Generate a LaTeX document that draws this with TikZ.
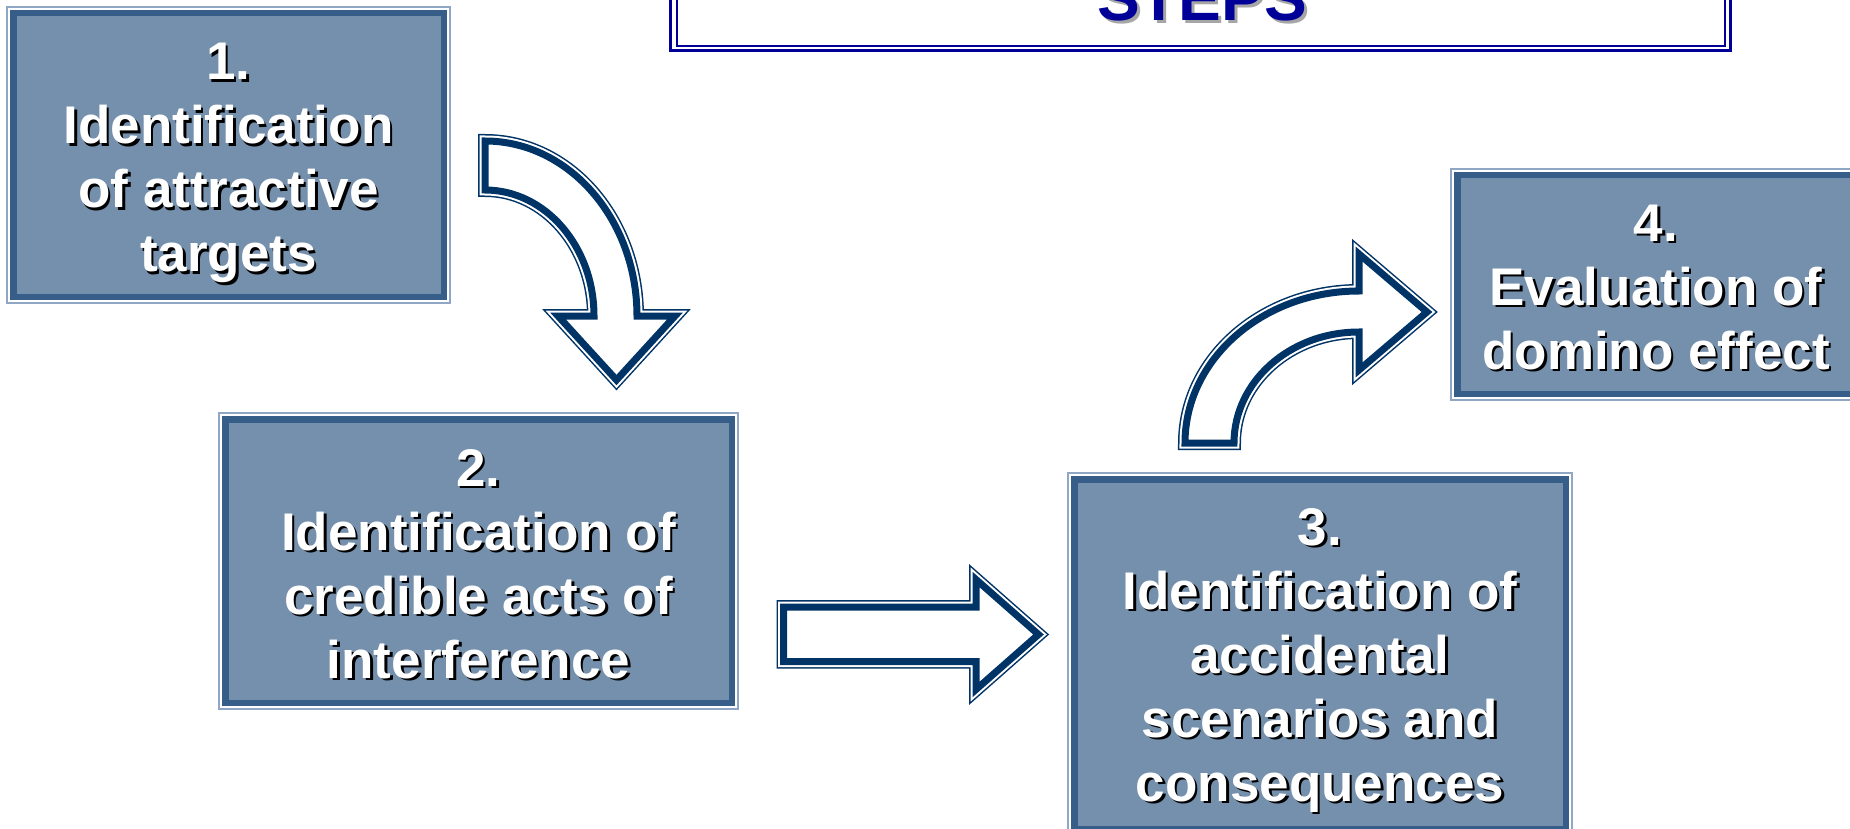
\documentclass[tikz,border=0pt]{standalone}
\usepackage{fontspec}
\setmainfont{Liberation Sans}[Ligatures=NoCommon]
\usetikzlibrary{calc}
\definecolor{boxfill}{HTML}{7590AD}
\definecolor{boxdark}{HTML}{365E88}
\definecolor{boxlight}{HTML}{8FA7C4}
\definecolor{arrnavy}{HTML}{003366}
\definecolor{titlenavy}{HTML}{000099}
\definecolor{titleshadow}{HTML}{A6A6A6}
\newcommand\shd[1]{\rlap{\kern2.5pt\raisebox{-2.5pt}{\textcolor{black}{#1}}}\textcolor{white}{#1}}
\newcommand\steplines[1]{\vtop{\baselineskip=64pt\lineskip=0pt\lineskiplimit=-100pt\halign{\hfil\shd{##}\hfil\cr#1\crcr}}}
\newcommand\blockarrow[1]{%
  \draw[arrnavy, line width=14pt, miter limit=20] #1;
  \draw[white, line width=11pt, miter limit=20] #1;
  \fill[white] #1;
  \draw[arrnavy, line width=7pt, miter limit=20] #1;}
\tikzset{
  stepbox/.style={draw=boxdark, line width=6.5pt, fill=boxfill, inner sep=0pt, outer sep=0pt},
  lightframe/.style={draw=boxlight, line width=2pt},
  steptext/.style={font=\bfseries\fontsize{53}{64}\selectfont, inner sep=0pt, anchor=base},
}
\begin{document}
\begin{tikzpicture}[x=1pt,y=-1pt]
\useasboundingbox (0,0) rectangle (1850,829);
\clip (0,0) rectangle (1850,829);
\fill[white] (0,0) rectangle (1850,829);

% title box (cut off at top)
\node[draw=titlenavy, line width=3pt, fill=white, minimum width=1060pt, minimum height=100pt, inner sep=0pt, outer sep=0pt] (title) at (1200.5,0.5) {};
\draw[titlenavy, line width=2pt] ($(title.north west)+(6,6)$) rectangle ($(title.south east)+(-5.5,-4.5)$);
\node[font=\bfseries\fontsize{64}{64}\selectfont, inner sep=0pt, anchor=base, text=titleshadow] at (1205,24) {STEPS};
\node[font=\bfseries\fontsize{64}{64}\selectfont, inner sep=0pt, anchor=base, text=titlenavy] (steps) at (1202,21) {STEPS};

% step boxes
\node[stepbox, minimum width=430.5pt, minimum height=283.5pt] (b1) at (228.5,155) {};
\node[stepbox, minimum width=506.5pt, minimum height=283.5pt] (b2) at (478.5,561) {};
\node[stepbox, minimum width=491.5pt, minimum height=349.5pt] (b3) at (1320,654) {};
\node[stepbox, minimum width=397.5pt, minimum height=218.5pt] (b4) at (1656,284.5) {};
\foreach \b in {b1,b2,b3,b4}{
  \draw[lightframe] ($(\b.north west)+(-6.25,-6.25)$) rectangle ($(\b.south east)+(6.25,6.25)$);
}

\node[steptext] (t1) at ($(b1.center)+(0,-75)$) {\steplines{1.\cr Identification\cr of attractive\cr targets}};
\node[steptext] (t2) at ($(b2.center)+(0,-75)$) {\steplines{2.\cr Identification of\cr credible acts of\cr interference}};
\node[steptext] (t3) at ($(b3.center)+(0,-109)$) {\steplines{3.\cr Identification of\cr accidental\cr scenarios and\cr consequences}};
\node[steptext] (t4) at ($(b4.center)+(0,-43.5)$) {\steplines{4.\cr Evaluation of\cr domino effect}};

% block arrows
\blockarrow{(485,141) .. controls (568.9,141) and (637,219.3) .. (637,316) -- (675,316) -- (616.5,380) -- (558,316) -- (594,316) .. controls (594,246.4) and (545.2,190) .. (485,190) -- cycle}
\blockarrow{(783.5,607) -- (976,607) -- (976,579.5) -- (1038.5,634.5) -- (976,689.5) -- (976,661.5) -- (783.5,661.5) -- cycle}
\blockarrow{(1185,443) .. controls (1185,359.05) and (1262.9,291) .. (1359,291) -- (1359,254) -- (1427,312) -- (1359,370) -- (1359,332) .. controls (1290,332) and (1234,381.7) .. (1234,443) -- cycle}
\end{tikzpicture}
\end{document}
